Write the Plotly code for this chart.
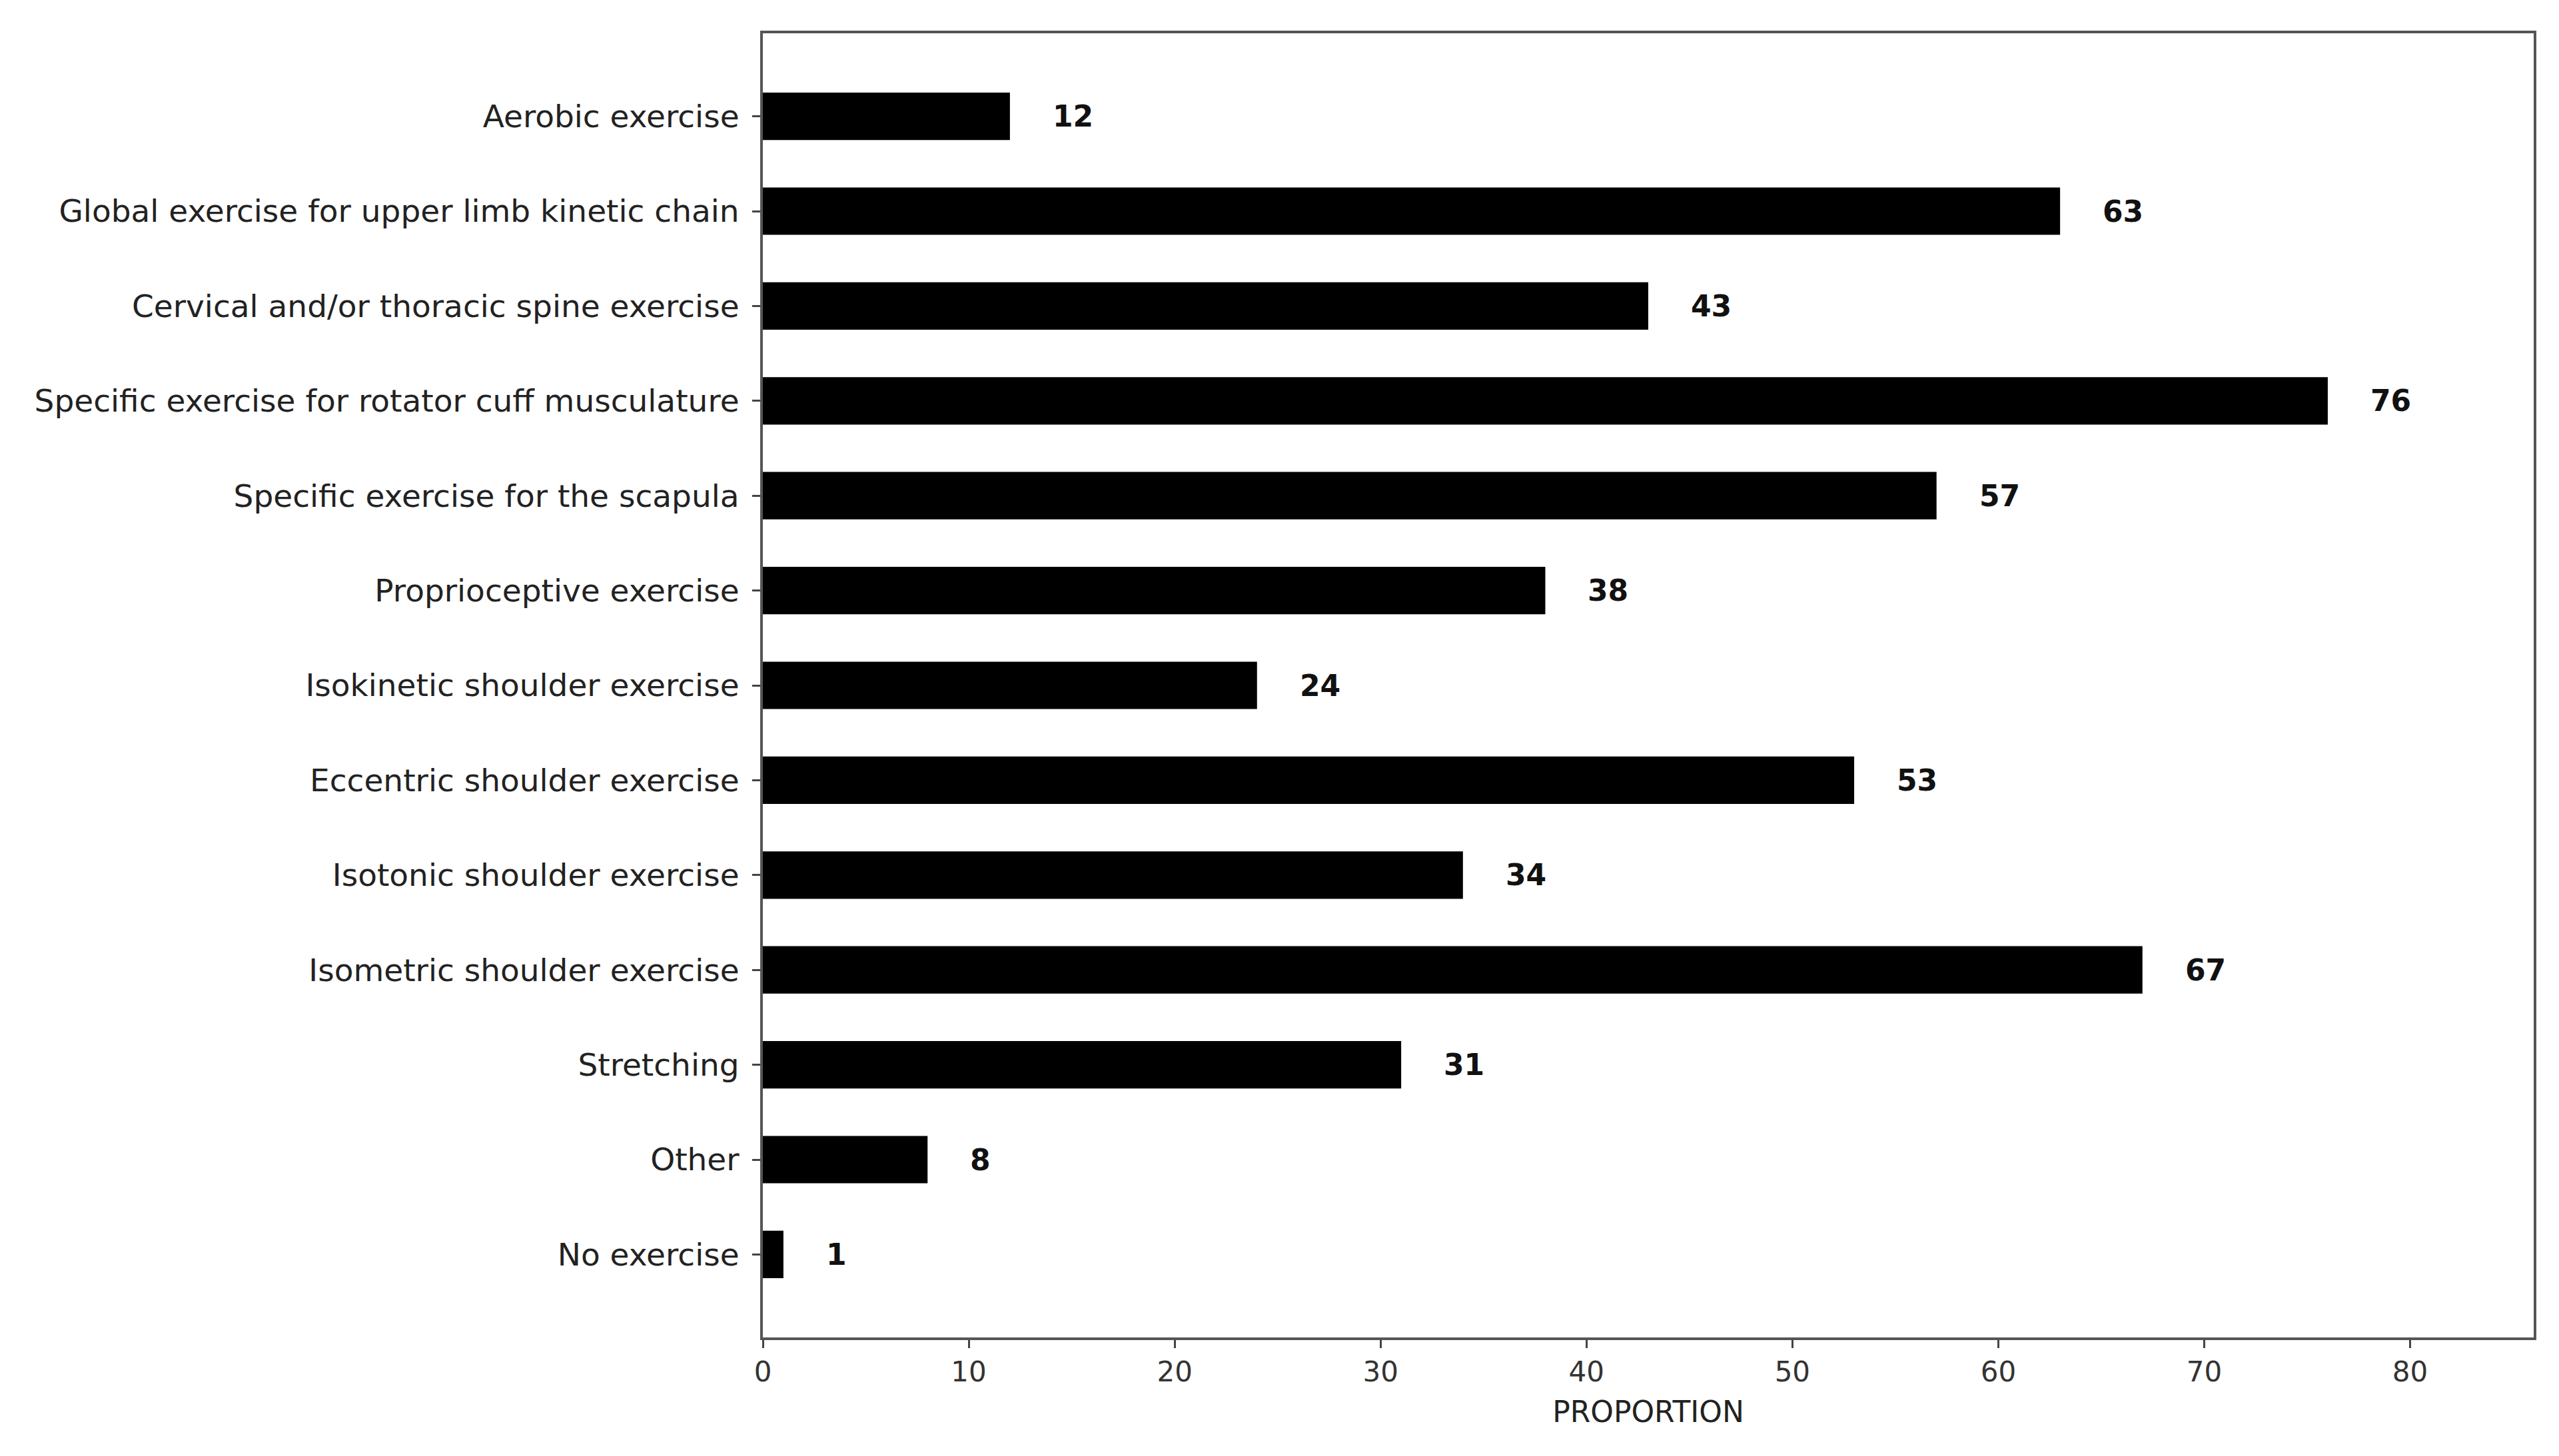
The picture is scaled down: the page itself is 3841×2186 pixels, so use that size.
import plotly.graph_objects as go

categories = [
    "Aerobic exercise",
    "Global exercise for upper limb kinetic chain",
    "Cervical and/or thoracic spine exercise",
    "Specific exercise for rotator cuff musculature",
    "Specific exercise for the scapula",
    "Proprioceptive exercise",
    "Isokinetic shoulder exercise",
    "Eccentric shoulder exercise",
    "Isotonic shoulder exercise",
    "Isometric shoulder exercise",
    "Stretching",
    "Other",
    "No exercise",
]
values = [12, 63, 43, 76, 57, 38, 24, 53, 34, 67, 31, 8, 1]
x_ticks = [0, 10, 20, 30, 40, 50, 60, 70, 80]

FONT = "DejaVu Sans"
n = len(categories)

fig = go.Figure()
fig.add_trace(go.Bar(
    x=values,
    y=categories,
    orientation="h",
    width=0.5,
    marker=dict(color="#000000", line=dict(width=0)),
    hoverinfo="skip",
))

for cat, v in zip(categories, values):
    fig.add_annotation(
        x=v + 2, y=cat, text=f"<b>{v}</b>", showarrow=False,
        xanchor="left", yanchor="middle",
        font=dict(family=FONT, size=44, color="#111111"),
    )

fig.update_layout(
    width=3841, height=2186,
    margin=dict(l=1137, r=46, t=42, b=186),
    paper_bgcolor="white", plot_bgcolor="white",
    showlegend=False,
    font=dict(family=FONT, size=44, color="#222222"),
)
fig.update_xaxes(
    range=[0, 86],
    tickmode="array", tickvals=x_ticks, ticktext=[str(t) for t in x_ticks],
    ticks="outside", ticklen=12, tickwidth=3, tickcolor="#444444",
    showline=True, linecolor="#555555", linewidth=4, mirror=True,
    showgrid=False, zeroline=False,
    title=dict(text="PROPORTION", font=dict(family=FONT, size=44, color="#222222"), standoff=22),
    tickfont=dict(family=FONT, size=42, color="#333333"),
)
fig.update_yaxes(
    type="category",
    categoryorder="array", categoryarray=categories,
    range=[n - 1 + 0.875, -0.875],
    ticks="outside", ticklen=12, tickwidth=3, tickcolor="#444444",
    ticklabelstandoff=10,
    showline=True, linecolor="#555555", linewidth=4, mirror=True,
    showgrid=False, zeroline=False,
    tickfont=dict(family=FONT, size=47, color="#222222"),
)

fig.write_html("out.html")
